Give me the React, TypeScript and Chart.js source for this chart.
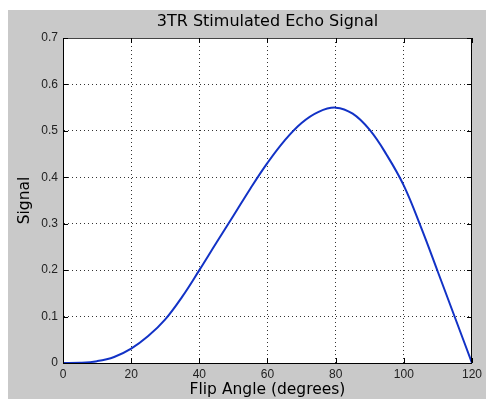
import React, { useEffect, useRef } from "react";
import { Chart, registerables } from "chart.js";

Chart.register(...registerables);

const flipAngles = [0, 5, 10, 15, 20, 25, 30, 35, 40, 45, 50, 55, 60, 65, 70, 75, 80, 85, 90, 95, 100, 105, 110, 115, 120];
const signalValues = [0, 0.0005, 0.004, 0.013, 0.031, 0.058, 0.094, 0.143, 0.2, 0.259, 0.317, 0.376, 0.431, 0.479, 0.517, 0.541, 0.55, 0.537, 0.502, 0.448, 0.382, 0.293, 0.196, 0.098, 0];
const titleText = "3TR Stimulated Echo Signal";
const xLabel = "Flip Angle (degrees)";
const yLabel = "Signal";

const W = 478;
const H = 389;

const framePlugin = {
  id: "frame",
  beforeDraw(chart: any) {
    const { ctx, chartArea } = chart;
    ctx.save();
    ctx.fillStyle = "#c9c9c9";
    ctx.fillRect(0, 0, chart.width, chart.height);
    ctx.fillStyle = "#ffffff";
    ctx.fillRect(chartArea.left, chartArea.top, chartArea.right - chartArea.left, chartArea.bottom - chartArea.top);
    ctx.restore();
  },
  afterDraw(chart: any) {
    const { ctx, chartArea, scales } = chart;
    const { left, right, top, bottom } = chartArea;
    ctx.save();
    ctx.lineWidth = 1;
    ctx.strokeStyle = "#444";
    ctx.beginPath();
    ctx.moveTo(left + 0.5, top + 0.5);
    ctx.lineTo(right - 0.5, top + 0.5);
    ctx.stroke();
    ctx.strokeStyle = "#000";
    ctx.beginPath();
    ctx.moveTo(right - 0.5, top + 0.5);
    ctx.lineTo(right - 0.5, bottom - 0.5);
    ctx.stroke();
    const tl = 5;
    ctx.beginPath();
    scales.y.ticks.forEach((t: any) => {
      const py = Math.round(scales.y.getPixelForValue(t.value)) + 0.5;
      ctx.moveTo(left, py);
      ctx.lineTo(left + tl, py);
      ctx.moveTo(right, py);
      ctx.lineTo(right - tl, py);
    });
    scales.x.ticks.forEach((t: any) => {
      const px = Math.round(scales.x.getPixelForValue(t.value)) + 0.5;
      ctx.moveTo(px, bottom);
      ctx.lineTo(px, bottom - tl);
      ctx.moveTo(px, top);
      ctx.lineTo(px, top + tl);
    });
    ctx.stroke();
    ctx.restore();
  },
};

export default function App() {
  const ref = useRef<HTMLCanvasElement>(null);
  useEffect(() => {
    if (!ref.current) return;
    const chart = new Chart(ref.current, {
      type: "line",
      data: {
        datasets: [
          {
            data: flipAngles.map((x, i) => ({ x, y: signalValues[i] })),
            borderColor: "#1232c6",
            borderWidth: 2,
            pointRadius: 0,
            tension: 0.4,
            fill: false,
          },
        ],
      },
      options: {
        responsive: false,
        animation: false,
        layout: { padding: { left: 0, right: 10, top: 0, bottom: 0 } },
        plugins: {
          legend: { display: false },
          tooltip: { enabled: false },
          title: {
            display: true,
            text: titleText,
            fullSize: false,
            color: "#000",
            font: { family: "DejaVu Sans", size: 16, weight: "normal" },
            padding: { top: 2, bottom: 6.8 },
          },
        },
        scales: {
          x: {
            type: "linear",
            min: 0,
            max: 120,
            afterFit: (s: any) => {
              s.height = 36;
            },
            ticks: {
              stepSize: 20,
              color: "#222",
              padding: 4,
              maxRotation: 0,
              font: { family: "Liberation Sans", size: 12 },
            },
            grid: { color: "rgba(0,0,0,0.8)", lineWidth: 1, drawTicks: false },
            border: { display: true, color: "#000", width: 1, dash: [1, 3] },
            title: {
              display: true,
              text: xLabel,
              color: "#000",
              font: { family: "DejaVu Sans", size: 15.5 },
              padding: { top: 0, bottom: 0 },
            },
          },
          y: {
            type: "linear",
            min: 0,
            max: 0.7,
            afterFit: (s: any) => {
              s.width = 55;
            },
            ticks: {
              stepSize: 0.1,
              color: "#222",
              padding: 5,
              font: { family: "Liberation Sans", size: 12 },
              callback: (v: any) => String(Number(Number(v).toFixed(1))),
            },
            grid: { color: "rgba(0,0,0,0.8)", lineWidth: 1, drawTicks: false },
            border: { display: true, color: "#000", width: 1, dash: [1, 3] },
            title: {
              display: true,
              text: yLabel,
              color: "#000",
              font: { family: "DejaVu Sans", size: 15.5 },
              padding: { top: 8, bottom: 0 },
            },
          },
        },
      },
      plugins: [framePlugin],
    } as any);
    return () => chart.destroy();
  }, []);
  return (
    <div style={{ position: "absolute", left: 8, top: 10, width: W, height: H }}>
      <canvas ref={ref} width={W} height={H} style={{ width: W, height: H, display: "block" }} />
    </div>
  );
}
